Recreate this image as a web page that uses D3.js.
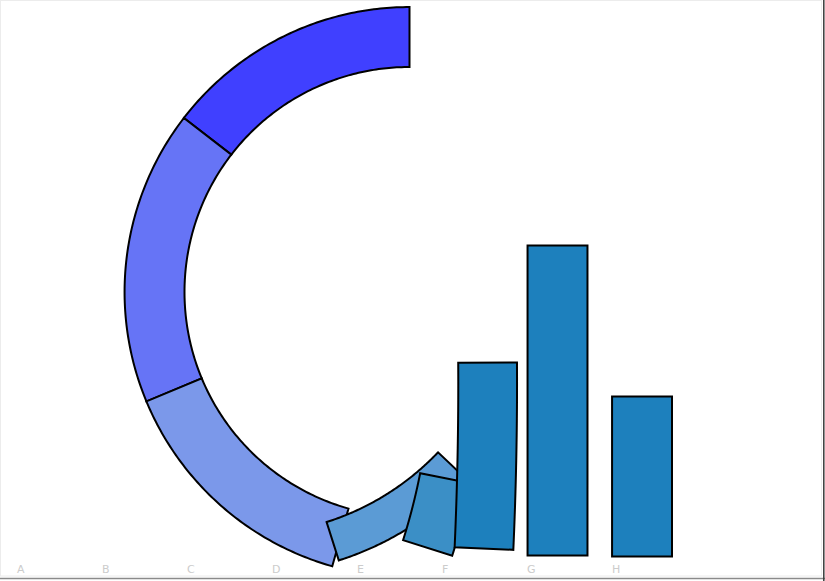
<!DOCTYPE html>
<html>
<head>
<meta charset="utf-8">
<script src="https://cdn.jsdelivr.net/npm/d3@7"></script>
<style>
    body { margin: 0; background: #fff; }
    svg { display: block; }
    .tick text { fill: #cccccc; font-family: "DejaVu Sans", sans-serif; font-size: 11px; }
</style>
</head>
<body>
<svg width="825" height="581" id="mainsvg"></svg>
<script>
    // chart data
    const categories = ["A", "B", "C", "D", "E", "F", "G", "H"];
    const values = [233, 268, 230, 143, 72, 186, 310, 160];
    // how far each bar has gone in the bar -> ring transition (0 = bar, 1 = ring)
    const progress = [1, 1, 1, 0.8, 0.43, 0.16, 0.005, 0];
    const colors = ["#4040ff", "#6674f6", "#7b98ea", "#5b9bd5", "#3b8fc6", "#1d80bd", "#1d80bd", "#1d80bd"];

    const svg = d3.select('#mainsvg');
    const width = +svg.attr('width');
    const height = +svg.attr('height');
    const baseline = 556.5;
    const center = { x: 409.5, y: 292 };

    const x = d3.scaleBand().domain(categories).range([0, 689]).paddingInner(0.295).paddingOuter(0.2);
    const y = d3.scaleLinear().domain([0, 320]).range([0, 320]);
    const bw = x.bandwidth();

    const lengths = values.map(v => y(v));
    const rMid = d3.sum(lengths) / (2 * Math.PI);
    const cum = Array.from(d3.cumsum(lengths));
    const before = cum.map((c, i) => c - lengths[i]);

    function ringPoint(phi) {
        return [center.x - rMid * Math.sin(phi), center.y - rMid * Math.cos(phi)];
    }

    const line = d3.line();

    function barPath(d, i) {
        const q = progress[i];
        const L = lengths[i];
        const phi0 = before[i] / rMid;
        const start = [x(d) + bw / 2, baseline];
        const end = ringPoint(phi0);
        const base = [start[0] + (end[0] - start[0]) * q, start[1] + (end[1] - start[1]) * q];
        const aStart = -Math.PI / 2;
        const aEnd = Math.atan2(Math.sin(phi0), -Math.cos(phi0));
        let theta = aEnd - aStart;
        theta = Math.atan2(Math.sin(theta), Math.cos(theta));
        const r = Math.pow(q, 1.7);
        const a0 = aStart + r * theta;
        const k = -(q * q * (3 - 2 * q)) / rMid;
        // normals are blended, so the strip gets thinner while it turns
        const w = bw * Math.hypot((1 - r) + r * Math.cos(theta), r * Math.sin(theta));

        const n = 80;
        const left = [], right = [];
        for (let j = 0; j <= n; j++) {
            const s = L * j / n;
            const a = a0 + k * s;
            let px, py;
            if (Math.abs(k) < 1e-9) {
                px = base[0] + s * Math.cos(a0);
                py = base[1] + s * Math.sin(a0);
            } else {
                px = base[0] + (Math.sin(a) - Math.sin(a0)) / k;
                py = base[1] - (Math.cos(a) - Math.cos(a0)) / k;
            }
            const nx = -Math.sin(a), ny = Math.cos(a);
            left.push([px - nx * w / 2, py - ny * w / 2]);
            right.push([px + nx * w / 2, py + ny * w / 2]);
        }
        return line(left.concat(right.reverse())) + 'Z';
    }

    // frame
    svg.append('rect')
        .attr('x', 0.5).attr('y', 0.5)
        .attr('width', 821).attr('height', 575.5)
        .attr('fill', 'none').attr('stroke', '#ececec');
    svg.append('line')
        .attr('x1', 0).attr('x2', width).attr('y1', 578.5).attr('y2', 578.5)
        .attr('stroke', '#8a8a8a').attr('stroke-width', 1.5);
    svg.append('line')
        .attr('x1', 823.8).attr('x2', 823.8).attr('y1', 0).attr('y2', height)
        .attr('stroke', '#3a3a3a').attr('stroke-width', 1.5);

    // labels
    const axis = svg.append('g')
        .attr('transform', `translate(0,${baseline})`)
        .call(d3.axisBottom(x).tickSize(0).tickPadding(9));
    axis.select('.domain').remove();
    axis.selectAll('.tick text')
        .attr('text-anchor', 'start')
        .attr('x', -bw / 2);

    // bars, part way into the ring
    svg.selectAll('path.bar').data(categories).join('path')
        .attr('class', 'bar')
        .attr('d', barPath)
        .attr('fill', (d, i) => colors[i])
        .attr('stroke', 'black')
        .attr('stroke-width', 2)
        .attr('stroke-linejoin', 'miter');
</script>
</body>
</html>
